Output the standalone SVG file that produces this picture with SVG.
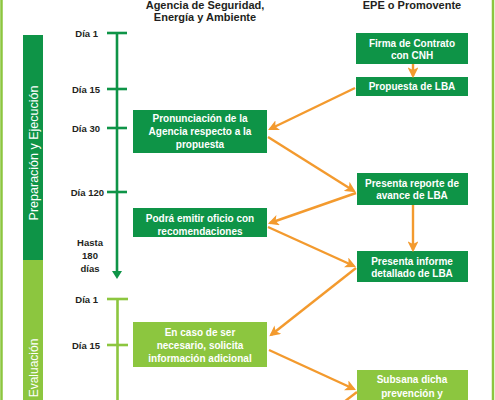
<svg xmlns="http://www.w3.org/2000/svg" width="495" height="400" viewBox="0 0 495 400">
<defs>
<style>
.bg{fill:#ffffff}
.dk{fill:#0e9447}
.lt{fill:#8cc63f}
.bt{font-family:"Liberation Sans",Arial,sans-serif;font-weight:bold;font-size:10px;fill:#ffffff;text-anchor:middle}
.hd{font-family:"Liberation Sans",Arial,sans-serif;font-weight:bold;font-size:11px;fill:#231f20;text-anchor:middle}
.dl{font-family:"Liberation Sans",Arial,sans-serif;font-weight:bold;font-size:9.5px;fill:#231f20;text-anchor:end}
.side{font-family:"Liberation Sans",Arial,sans-serif;font-size:12.5px;fill:#ffffff;text-anchor:middle}
.oa{stroke:#f39a2e;stroke-width:2.4;fill:none;marker-end:url(#ah)}
.tlD{stroke:#0e9447;stroke-width:2.6;fill:none}
.tlL{stroke:#8cc63f;stroke-width:2.6;fill:none}
</style>
<marker id="ah" viewBox="0 0 10 10" refX="8" refY="5" markerWidth="4.5" markerHeight="4.5" orient="auto" markerUnits="strokeWidth">
<path d="M0,0 L10,5 L0,10 L2.5,5 z" fill="#f39a2e"/>
</marker>
</defs>
<rect class="bg" x="0" y="0" width="495" height="400"/>
<g id="borders">
<line x1="1.5" y1="0" x2="1.5" y2="400" stroke="#8cc63f" stroke-width="2.5"/>
<line x1="493" y1="0" x2="493" y2="400" stroke="#8cc63f" stroke-width="2.5"/>
</g>
<g id="headers">
<text class="hd" x="205" y="8.5">Agencia de Seguridad,</text>
<text class="hd" x="205" y="21">Energía y Ambiente</text>
<text class="hd" x="412" y="9">EPE o Promovente</text>
</g>
<g id="phase-prep">
<rect class="dk" x="23" y="35" width="20" height="225"/>
<text class="side" transform="translate(37.5,153) rotate(-90)">Preparación y Ejecución</text>
</g>
<g id="phase-eval">
<rect class="lt" x="23" y="260" width="20" height="140"/>
<text class="side" style="font-size:12px" transform="translate(37.5,368) rotate(-90)">Evaluación</text>
</g>
<g id="timeline-prep">
<line class="tlD" x1="117" y1="33" x2="117" y2="272"/>
<polygon points="112,271 122,271 117,279" fill="#0e9447"/>
<line class="tlD" x1="107" y1="33" x2="127" y2="33"/>
<line class="tlD" x1="107" y1="89" x2="127" y2="89"/>
<line class="tlD" x1="107" y1="128" x2="127" y2="128"/>
<line class="tlD" x1="107" y1="192" x2="127" y2="192"/>
<text class="dl" x="98" y="36.5">Día 1</text>
<text class="dl" x="100" y="92.5">Día 15</text>
<text class="dl" x="100" y="131.5">Día 30</text>
<text class="dl" x="104" y="195.5">Día 120</text>
<text class="dl" x="90" y="245.5" style="text-anchor:middle">Hasta</text>
<text class="dl" x="90" y="258.5" style="text-anchor:middle">180</text>
<text class="dl" x="90" y="271.5" style="text-anchor:middle">días</text>
</g>
<g id="timeline-eval">
<line class="tlL" x1="117.5" y1="299" x2="117.5" y2="400"/>
<line class="tlL" x1="107" y1="299" x2="128" y2="299"/>
<line class="tlL" x1="107" y1="345" x2="128" y2="345"/>
<text class="dl" x="98" y="302.5">Día 1</text>
<text class="dl" x="100" y="348.5">Día 15</text>
</g>
<g id="n-firma">
<rect class="dk" x="356" y="33" width="112" height="31"/>
<text class="bt" x="412" y="46.5">Firma de Contrato</text>
<text class="bt" x="412" y="59">con CNH</text>
</g>
<g id="n-propuesta">
<rect class="dk" x="356" y="77" width="112" height="19"/>
<text class="bt" x="412" y="90">Propuesta de LBA</text>
</g>
<g id="n-pronunciacion">
<rect class="dk" x="133" y="110" width="134" height="43"/>
<text class="bt" x="200" y="121.5">Pronunciación de la</text>
<text class="bt" x="200" y="134.5">Agencia respecto a la</text>
<text class="bt" x="200" y="148">propuesta</text>
</g>
<g id="n-reporte">
<rect class="dk" x="357" y="173" width="111" height="32"/>
<text class="bt" x="412" y="186.5">Presenta reporte de</text>
<text class="bt" x="412" y="199">avance de LBA</text>
</g>
<g id="n-oficio">
<rect class="dk" x="133" y="208" width="134" height="29"/>
<text class="bt" x="200" y="221.5">Podrá emitir oficio con</text>
<text class="bt" x="200" y="234.5">recomendaciones</text>
</g>
<g id="n-informe">
<rect class="dk" x="357" y="251" width="111" height="31"/>
<text class="bt" x="412" y="264.5">Presenta informe</text>
<text class="bt" x="412" y="277">detallado de LBA</text>
</g>
<g id="n-solicita">
<rect class="lt" x="133" y="322" width="134" height="45"/>
<text class="bt" x="200" y="335.5">En caso de ser</text>
<text class="bt" x="200" y="348.5">necesario, solicita</text>
<text class="bt" x="200" y="361.5">información adicional</text>
</g>
<g id="n-subsana">
<rect class="lt" x="357" y="370" width="111" height="35"/>
<text class="bt" x="412" y="382.5">Subsana dicha</text>
<text class="bt" x="412" y="396.5">prevención y</text>
</g>
<g id="connectors">
<line class="oa" x1="413" y1="64" x2="413" y2="76"/>
<line class="oa" x1="355" y1="88" x2="270" y2="129"/>
<line class="oa" x1="268" y1="137" x2="354" y2="191"/>
<line class="oa" x1="356" y1="193" x2="270" y2="223"/>
<line class="oa" x1="268" y1="227" x2="354" y2="266"/>
<line class="oa" x1="413" y1="205" x2="413" y2="250"/>
<line class="oa" x1="356" y1="268" x2="271" y2="335"/>
<line class="oa" x1="269" y1="350" x2="354" y2="389"/>
<line x1="357" y1="392" x2="340" y2="405" stroke="#f39a2e" stroke-width="2.4"/>
</g>
</svg>
